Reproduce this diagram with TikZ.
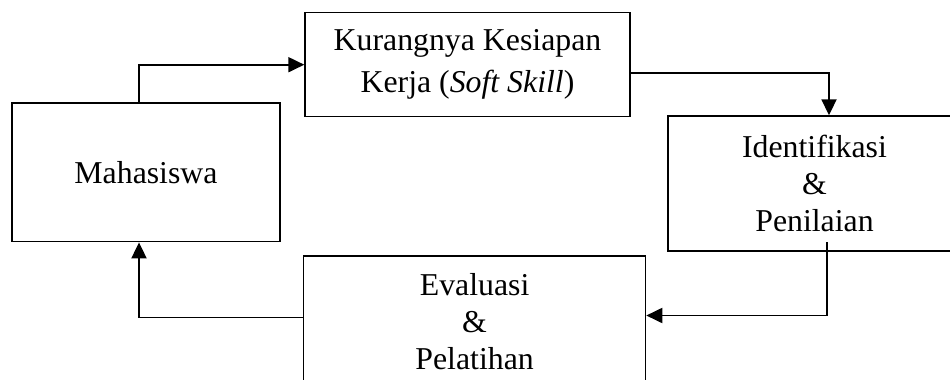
\documentclass[tikz,border=0pt]{standalone}
\usepackage{fontspec}
\setmainfont[Ligatures=CommonOff]{Liberation Serif}
\usetikzlibrary{arrows.meta}
\begin{document}
\begin{tikzpicture}[x=1pt,y=-1pt,
  box/.style={draw, line width=1.4pt, rectangle, inner sep=0pt, align=center,
    font=\fontsize{31.8}{37}\selectfont},
  conn/.style={line width=1.9pt, -{Triangle[length=16pt,width=15pt]}}]
\useasboundingbox (0,0) rectangle (950,380);
\clip (0,0) rectangle (950,380);
\fill[white] (0,0) rectangle (950,380);
\node[box, minimum width=268pt, minimum height=138.7pt] (mah) at (146,172.35) {Mahasiswa};
\node[box, minimum width=325pt, minimum height=104pt, font=\fontsize{31.8}{42}\selectfont] (kur) at (467.5,64.7) {Kurangnya Kesiapan\\Kerja (\textit{Soft Skill})};
\node[box, minimum width=293pt, minimum height=135pt] (ident) at (814.5,183.5) {Identifikasi\\\&\\Penilaian};
\node[box, minimum width=342pt, minimum height=131pt] (eva) at (474.6,321.5) {Evaluasi\\\&\\Pelatihan};
\coordinate (m1) at (138.6,0);
\coordinate (k1) at (829,0);
\coordinate (k2) at (0,73);
\coordinate (i1) at (827,242);
\coordinate (i2) at (0,315.5);
\coordinate (e1) at (0,317.5);
\coordinate (m2) at (139,0);
\draw[conn] (mah.north -| m1) |- (kur.west);
\draw[conn] (kur.east |- k2) -| (k1 |- ident.north);
\draw[conn] (i1) |- (eva.east |- i2);
\draw[conn] (eva.west |- e1) -| (mah.south -| m2);
\end{tikzpicture}
\end{document}
